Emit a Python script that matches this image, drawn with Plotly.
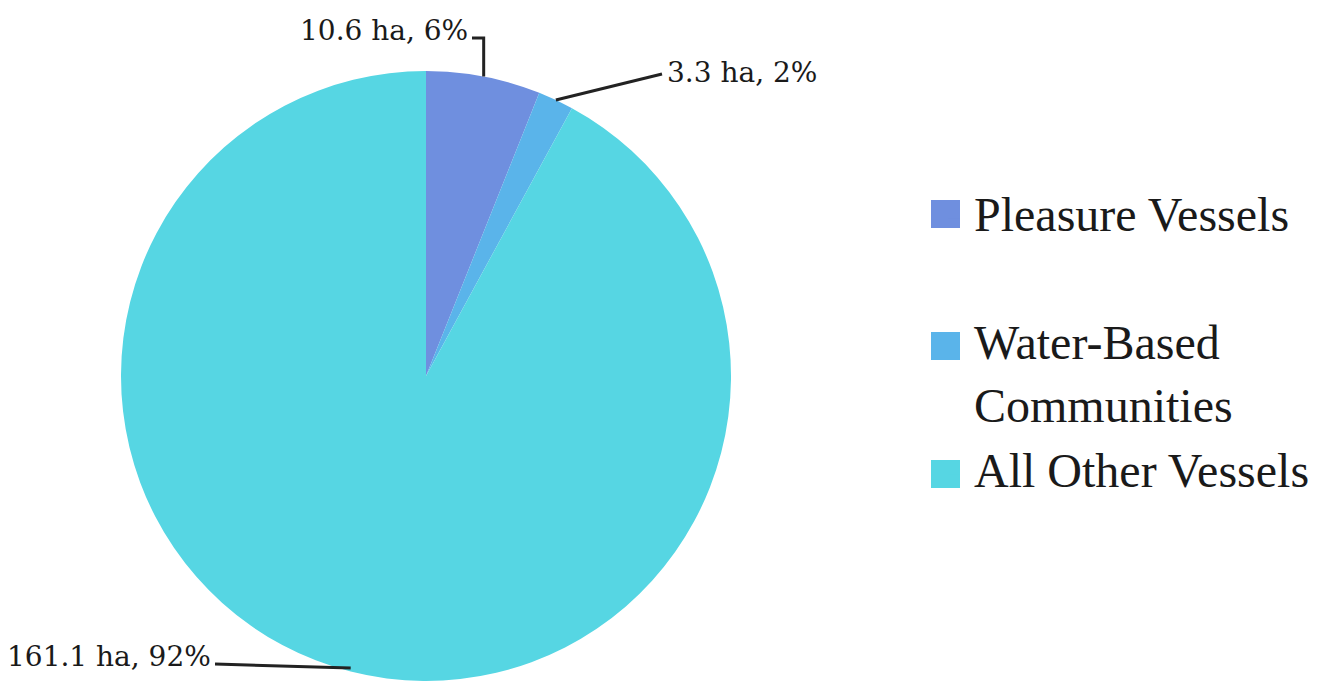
import math
import plotly.graph_objects as go

# ---- data ----
categories = ["Pleasure Vessels", "Water-Based Communities", "All Other Vessels"]
legend_names = ["Pleasure Vessels<br> ", "Water-Based<br>Communities", "All Other Vessels"]
areas_ha = [10.6, 3.3, 161.1]
area_text = ["10.6", "3.3", "161.1"]
percent_text = ["6%", "2%", "92%"]
slice_colors = ["#6f8fdf", "#5ab4ea", "#56d6e3"]

# ---- layout geometry (pixels) ----
W, H = 1328, 682
CX, CY, R = 426, 376, 305

fig = go.Figure()
fig.add_trace(go.Pie(
    labels=legend_names,
    values=areas_ha,
    customdata=categories,
    sort=False,
    direction="clockwise",
    rotation=0,
    marker=dict(colors=slice_colors, line=dict(width=0)),
    textinfo="none",
    hovertemplate="%{customdata}: %{value} ha (%{percent})<extra></extra>",
    domain=dict(x=[(CX - R) / W, (CX + R) / W], y=[(H - CY - R) / H, (H - CY + R) / H]),
))


def px(x, y):
    return x / W, 1 - y / H


# mid-angle edge points from the data
total = sum(areas_ha)
edges = []
cum = 0.0
for v in areas_ha:
    mid = (cum + v / 2) / total * 2 * math.pi
    edges.append((CX + R * math.sin(mid), CY - R * math.cos(mid)))
    cum += v

label_font = dict(family="DejaVu Serif", size=28, color="#1a1a1a")
line_style = dict(color="#222222", width=3)
annotations = []
shapes = []

# slice 0 label (top, elbow leader)
ex, ey = edges[0]
tx, ty = px(470, 31)
annotations.append(dict(x=tx, y=ty, xref="paper", yref="paper", xanchor="right", yanchor="middle",
                        text=f"{area_text[0]} ha, {percent_text[0]}", showarrow=False, font=label_font))
shapes.append(dict(type="path", xref="paper", yref="paper", line=line_style,
                   path="M {:.5f},{:.5f} L {:.5f},{:.5f} L {:.5f},{:.5f}".format(
                       *px(472, 38), *px(ex, 38), *px(ex, ey))))

# slice 1 label (upper right)
ex, ey = edges[1]
tx, ty = px(665, 72)
annotations.append(dict(x=tx, y=ty, xref="paper", yref="paper", xanchor="left", yanchor="middle",
                        text=f"{area_text[1]} ha, {percent_text[1]}", showarrow=False, font=label_font))
shapes.append(dict(type="path", xref="paper", yref="paper", line=line_style,
                   path="M {:.5f},{:.5f} L {:.5f},{:.5f}".format(*px(ex, ey), *px(662, 74))))

# slice 2 label (bottom left)
ex, ey = edges[2]
tx, ty = px(213, 656)
annotations.append(dict(x=tx, y=ty, xref="paper", yref="paper", xanchor="right", yanchor="middle",
                        text=f"{area_text[2]} ha, {percent_text[2]}", showarrow=False, font=label_font))
shapes.append(dict(type="path", xref="paper", yref="paper", line=line_style,
                   path="M {:.5f},{:.5f} L {:.5f},{:.5f}".format(*px(215, 664), *px(ex, min(ey, 668)))))

# enlarged legend swatches drawn behind the legend's own symbols
swatch_centers_y = [214, 346, 474]
for col, sy in zip(slice_colors, swatch_centers_y):
    x0, y0 = px(931, sy - 14)
    x1, y1 = px(960, sy + 14)
    shapes.append(dict(type="rect", xref="paper", yref="paper", x0=x0, x1=x1, y0=y1, y1=y0,
                       fillcolor=col, line=dict(width=0), layer="above"))

fig.update_layout(
    width=W, height=H,
    margin=dict(l=0, r=0, t=0, b=0),
    paper_bgcolor="white", plot_bgcolor="white",
    showlegend=True,
    legend=dict(
        x=934 / W, y=1 - 175 / H, xanchor="left", yanchor="top",
        font=dict(family="Liberation Serif", size=48, color="#1a1a1a"),
        valign="top", traceorder="normal", bgcolor="rgba(0,0,0,0)",
    ),
    annotations=annotations,
    shapes=shapes,
)

fig.write_html("out.html", config={"displayModeBar": False},
               post_script="document.body.style.margin='0';")
